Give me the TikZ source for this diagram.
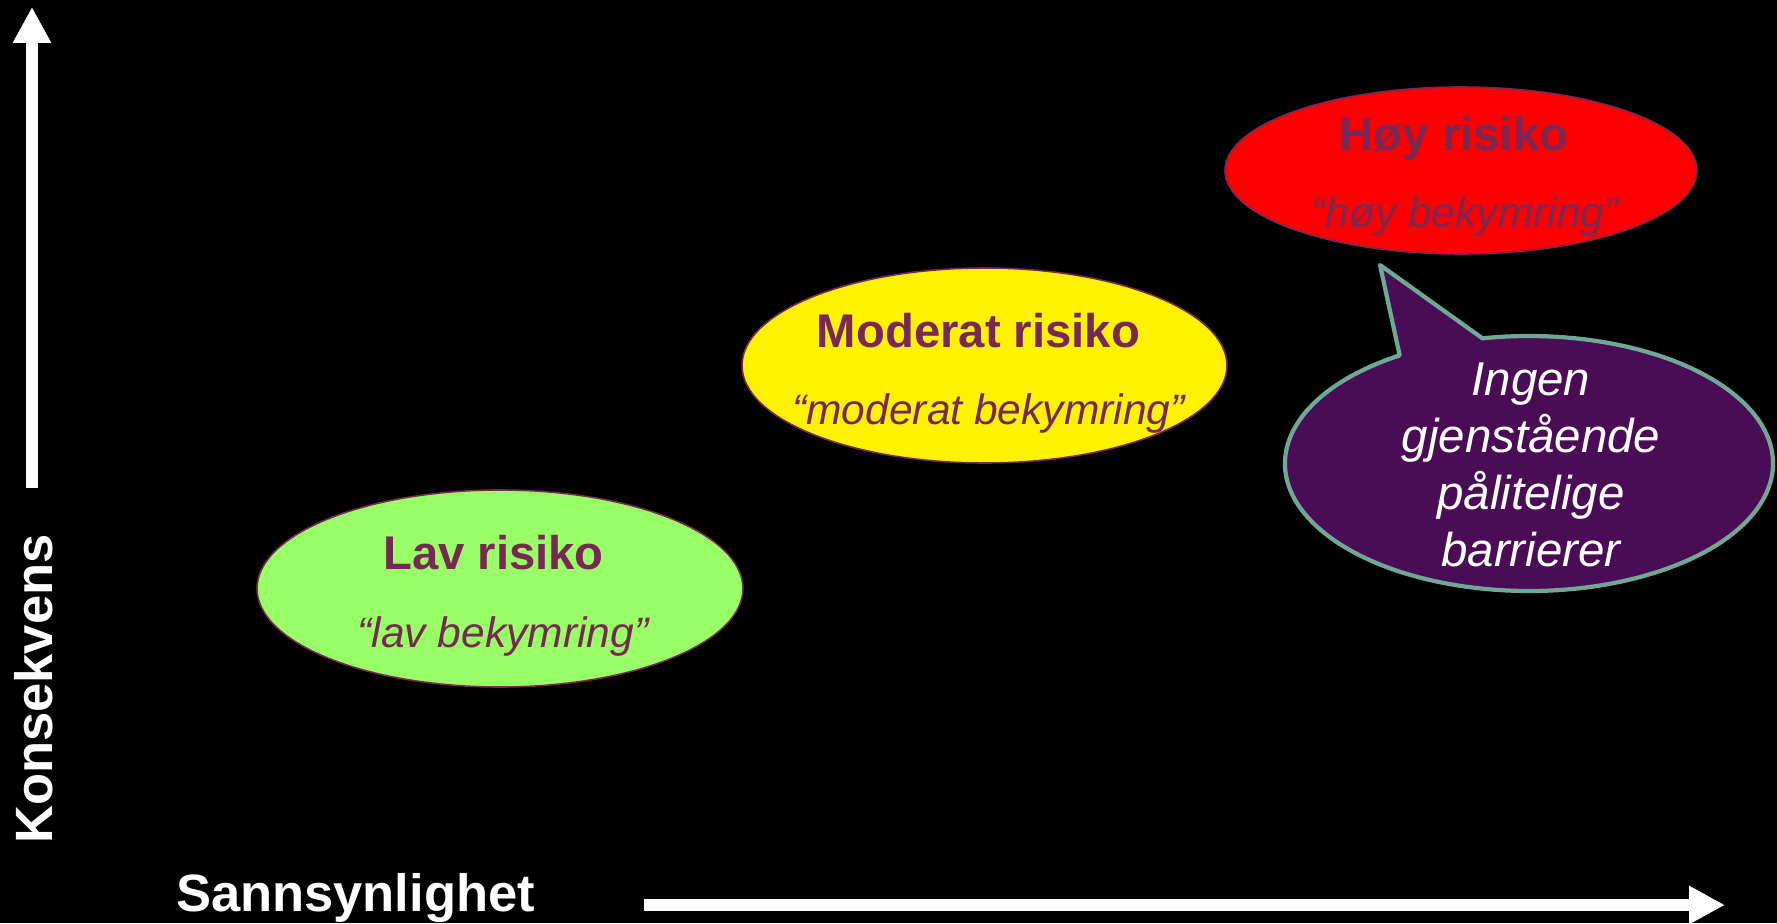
\documentclass[tikz,border=0pt]{standalone}
\usepackage{fontspec}
\setmainfont{Liberation Sans}
\usepackage{tikz}
\usetikzlibrary{shapes.geometric,arrows.meta,calc}

\definecolor{riskText}{RGB}{120,40,85}
\definecolor{lavFill}{HTML}{99FF66}
\definecolor{bubbleFill}{RGB}{74,12,85}
\definecolor{bubbleLine}{RGB}{112,168,152}

\begin{document}
\begin{tikzpicture}
\tikzstyle{zone} = [ellipse, draw = riskText, line width = 0.45pt, inner sep = 0pt]
\tikzstyle{title} = [anchor = base, text = riskText, font = \fontsize{13.45}{16}\selectfont\bfseries]
\tikzstyle{sub} = [anchor = base, text = riskText, font = \fontsize{12.1}{15}\selectfont\itshape]
\tikzstyle{axis} = [white, line width = 1.2mm, -{Triangle[length = 3.6mm, width = 3.6mm]}]
\tikzstyle{axislabel} = [anchor = base, text = white, font = \fontsize{14.94}{18}\selectfont\bfseries]

\fill[black] (0, 0) rectangle (17.77, 9.23);
\useasboundingbox (0, 0) rectangle (17.77, 9.23);

\draw (5.00, 3.345) node[zone, fill = lavFill, minimum width = 4.86cm, minimum height = 1.97cm] (1) {};
\draw (9.845, 5.575) node[zone, fill = yellow, minimum width = 4.85cm, minimum height = 1.95cm] (2) {};
\draw (14.61, 7.525) node[zone, fill = red, minimum width = 4.72cm, minimum height = 1.67cm] (3) {};

\draw (4.935, 3.54) node[title] (1a) {Lav risiko};
\draw (5.03, 2.76) node[sub] (1b) {“lav bekymring”};
\draw (9.785, 5.76) node[title] (2a) {Moderat risiko};
\draw (9.885, 4.98) node[sub] (2b) {“moderat bekymring”};
\draw (14.54, 7.72) node[title] (3a) {Høy risiko};
\draw (14.65, 6.95) node[sub] (3b) {“høy bekymring”};

\coordinate (4) at (15.29, 4.595);
\coordinate (5) at (13.80, 6.58);
\draw[fill = bubbleFill, draw = bubbleLine, line width = 1.2pt, line join = round]
  (5) -- ($(4) + (122:2.44 and 1.275)$)
  arc[start angle = 122, end angle = 461, x radius = 2.44cm, y radius = 1.275cm] -- cycle;
\draw (15.31, 4.58) node[align = center, text = white, font = \fontsize{13.5}{16.2}\selectfont\itshape] (6)
  {Ingen\\gjenstående\\pålitelige\\barrierer};

\coordinate (7) at (0.32, 4.35);
\coordinate (8) at (0.32, 9.16);
\coordinate (9) at (6.44, 0.18);
\coordinate (10) at (17.25, 0.18);
\draw[axis] (7) -- (8);
\draw[axis] (9) -- (10);
\draw (0.52, 2.34) node[axislabel, rotate = 90] (11) {Konsekvens};
\draw (3.555, 0.12) node[axislabel] (12) {Sannsynlighet};
\end{tikzpicture}
\end{document}
